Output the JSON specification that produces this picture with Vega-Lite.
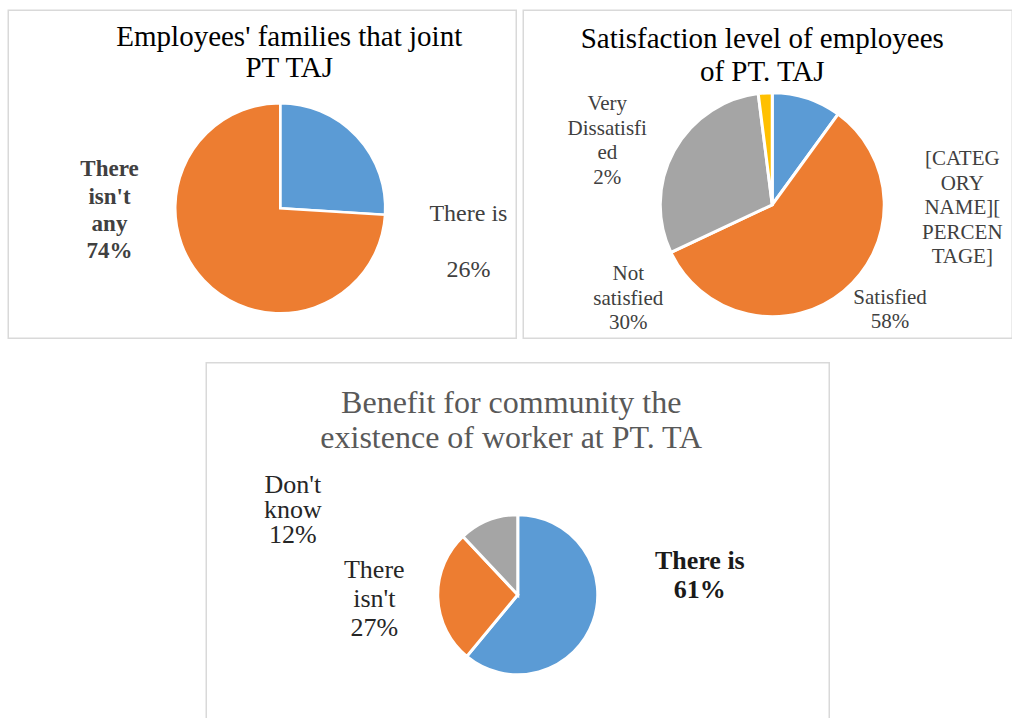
{
  "$schema": "https://vega.github.io/schema/vega-lite/v6.json",
  "background": "white",
  "padding": {"left": 7.25, "top": 9.25, "right": 0, "bottom": 0},
  "config": {
    "view": {"stroke": null},
    "title": {"font": "Liberation Serif", "fontWeight": "normal", "anchor": "middle", "frame": "group"},
    "text": {"font": "Liberation Serif", "baseline": "alphabetic"}
  },
  "spacing": 22.5,
  "resolve": {"scale": {"color": "independent", "theta": "independent"}},
  "vconcat": [
    {
      "spacing": 7,
      "bounds": "flush",
      "resolve": {"scale": {"color": "independent", "theta": "independent"}},
      "hconcat": [
        {
          "width": 508,
          "height": 328,
          "title": {"text": ["Employees' families that joint", "PT TAJ"], "fontSize": 29, "lineHeight": 31, "color": "#000000", "offset": -73, "dx": 27},
          "layer": [
            {"data": {"values": [{"panel": 1}]}, "mark": {"type": "rect", "fill": null, "stroke": "#d9d9d9", "strokeWidth": 1.5}},
            {
              "data": {"values": [
                {"idx": 1, "category": "There is", "percent": 26, "label": "There is\n26%"},
                {"idx": 2, "category": "There isn't any", "percent": 74, "label": "There\nisn't\nany\n74%"}
              ]},
              "encoding": {
                "theta": {"field": "percent", "type": "quantitative", "stack": true},
                "order": {"field": "idx", "type": "quantitative"},
                "color": {"field": "category", "type": "nominal", "legend": null,
                  "scale": {"domain": ["There is", "There isn't any"], "range": ["#5B9BD5", "#ED7D31"]}}
              },
              "layer": [
                {"mark": {"type": "arc", "outerRadius": 105, "stroke": "white", "strokeWidth": 2.5, "xOffset": 18, "yOffset": 34}},
                {"mark": {"type": "text", "radius": 40, "xOffset": 18, "yOffset": 34, "dx": 159, "dy": 40, "fontSize": 24, "lineBreak": "\n", "lineHeight": 56},
                 "encoding": {"color": {"value": "#404040"}, "text": {"condition": {"test": "datum.idx == 1", "field": "label", "type": "nominal"}, "value": ""}}},
                {"mark": {"type": "text", "radius": 60, "xOffset": 18, "yOffset": 34, "dx": -127, "dy": -73, "fontSize": 23, "fontWeight": "bold", "lineBreak": "\n", "lineHeight": 27.3},
                 "encoding": {"color": {"value": "#404040"}, "text": {"condition": {"test": "datum.idx == 2", "field": "label", "type": "nominal"}, "value": ""}}}
              ]
            }
          ]
        },
        {
          "width": 489,
          "height": 328,
          "title": {"text": ["Satisfaction level of employees", "of PT. TAJ"], "fontSize": 29, "lineHeight": 33, "color": "#000000", "offset": -77, "dx": -5.5},
          "layer": [
            {"data": {"values": [{"panel": 2}]}, "mark": {"type": "rect", "fill": null, "stroke": "#d9d9d9", "strokeWidth": 1.5}},
            {
              "data": {"values": [
                {"idx": 1, "category": "Very satisfied", "percent": 10, "label": "[CATEG\nORY\nNAME][\nPERCEN\nTAGE]"},
                {"idx": 2, "category": "Satisfied", "percent": 58, "label": "Satisfied\n58%"},
                {"idx": 3, "category": "Not satisfied", "percent": 30, "label": "Not\nsatisfied\n30%"},
                {"idx": 4, "category": "Very Dissatisfied", "percent": 2, "label": "Very\nDissatisfi\ned\n2%"}
              ]},
              "encoding": {
                "theta": {"field": "percent", "type": "quantitative", "stack": true},
                "order": {"field": "idx", "type": "quantitative"},
                "color": {"field": "category", "type": "nominal", "legend": null,
                  "scale": {"domain": ["Very satisfied", "Satisfied", "Not satisfied", "Very Dissatisfied"], "range": ["#5B9BD5", "#ED7D31", "#A5A5A5", "#FFC000"]}}
              },
              "layer": [
                {"mark": {"type": "arc", "outerRadius": 112, "stroke": "white", "strokeWidth": 3, "xOffset": 4.5, "yOffset": 30.5}},
                {"mark": {"type": "text", "radius": 60, "xOffset": 4.5, "yOffset": 30.5, "dx": 171.5, "dy": 17.6, "fontSize": 21, "lineBreak": "\n", "lineHeight": 24.5},
                 "encoding": {"color": {"value": "#404040"}, "text": {"condition": {"test": "datum.idx == 1", "field": "label", "type": "nominal"}, "value": ""}}},
                {"mark": {"type": "text", "radius": 130, "xOffset": 4.5, "yOffset": 30.5, "dx": 35, "dy": -1, "fontSize": 21, "lineBreak": "\n", "lineHeight": 24.5},
                 "encoding": {"color": {"value": "#404040"}, "text": {"condition": {"test": "datum.idx == 2", "field": "label", "type": "nominal"}, "value": ""}}},
                {"mark": {"type": "text", "radius": 30, "xOffset": 4.5, "yOffset": 30.5, "dx": -117.7, "dy": 90, "fontSize": 21, "lineBreak": "\n", "lineHeight": 24.5},
                 "encoding": {"color": {"value": "#404040"}, "text": {"condition": {"test": "datum.idx == 3", "field": "label", "type": "nominal"}, "value": ""}}},
                {"mark": {"type": "text", "radius": 60, "xOffset": 4.5, "yOffset": 30.5, "dx": -161.2, "dy": -34.6, "fontSize": 21, "lineBreak": "\n", "lineHeight": 24.5},
                 "encoding": {"color": {"value": "#404040"}, "text": {"condition": {"test": "datum.idx == 4", "field": "label", "type": "nominal"}, "value": ""}}}
              ]
            }
          ]
        }
      ]
    },
    {
      "spacing": 0,
      "bounds": "flush",
      "resolve": {"scale": {"color": "independent", "theta": "independent"}},
      "hconcat": [
        {
          "width": 197.75,
          "height": 356,
          "data": {"values": []},
          "mark": {"type": "point", "opacity": 0}
        },
        {
          "width": 623,
          "height": 356,
          "title": {"text": ["Benefit for community the", "existence of worker at PT. TA"], "fontSize": 32, "lineHeight": 35, "color": "#595959", "offset": -93, "dx": -6.5},
          "layer": [
            {"data": {"values": [{"panel": 3}]}, "mark": {"type": "rect", "fill": null, "stroke": "#d9d9d9", "strokeWidth": 1.5}},
            {
              "data": {"values": [
                {"idx": 1, "category": "There is", "percent": 61, "label": "There is\n61%"},
                {"idx": 2, "category": "There isn't", "percent": 27, "label": "There\nisn't\n27%"},
                {"idx": 3, "category": "Don't know", "percent": 12, "label": "Don't\nknow\n12%"}
              ]},
              "encoding": {
                "theta": {"field": "percent", "type": "quantitative", "stack": true},
                "order": {"field": "idx", "type": "quantitative"},
                "color": {"field": "category", "type": "nominal", "legend": null,
                  "scale": {"domain": ["There is", "There isn't", "Don't know"], "range": ["#5B9BD5", "#ED7D31", "#A5A5A5"]}}
              },
              "layer": [
                {"mark": {"type": "arc", "outerRadius": 80, "stroke": "white", "strokeWidth": 3, "xOffset": 0, "yOffset": 54}},
                {"mark": {"type": "text", "radius": 100, "xOffset": 0, "yOffset": 54, "dx": 88, "dy": -60, "fontSize": 26, "fontWeight": "bold", "lineBreak": "\n", "lineHeight": 29},
                 "encoding": {"color": {"value": "#1a1a1a"}, "text": {"condition": {"test": "datum.idx == 1", "field": "label", "type": "nominal"}, "value": ""}}},
                {"mark": {"type": "text", "radius": 100, "xOffset": 0, "yOffset": 54, "dx": -43.5, "dy": -20, "fontSize": 26, "lineBreak": "\n", "lineHeight": 29},
                 "encoding": {"color": {"value": "#262626"}, "text": {"condition": {"test": "datum.idx == 2", "field": "label", "type": "nominal"}, "value": ""}}},
                {"mark": {"type": "text", "radius": 100, "xOffset": 0, "yOffset": 54, "dx": -188, "dy": -9, "fontSize": 26, "lineBreak": "\n", "lineHeight": 25},
                 "encoding": {"color": {"value": "#262626"}, "text": {"condition": {"test": "datum.idx == 3", "field": "label", "type": "nominal"}, "value": ""}}}
              ]
            }
          ]
        }
      ]
    }
  ]
}
